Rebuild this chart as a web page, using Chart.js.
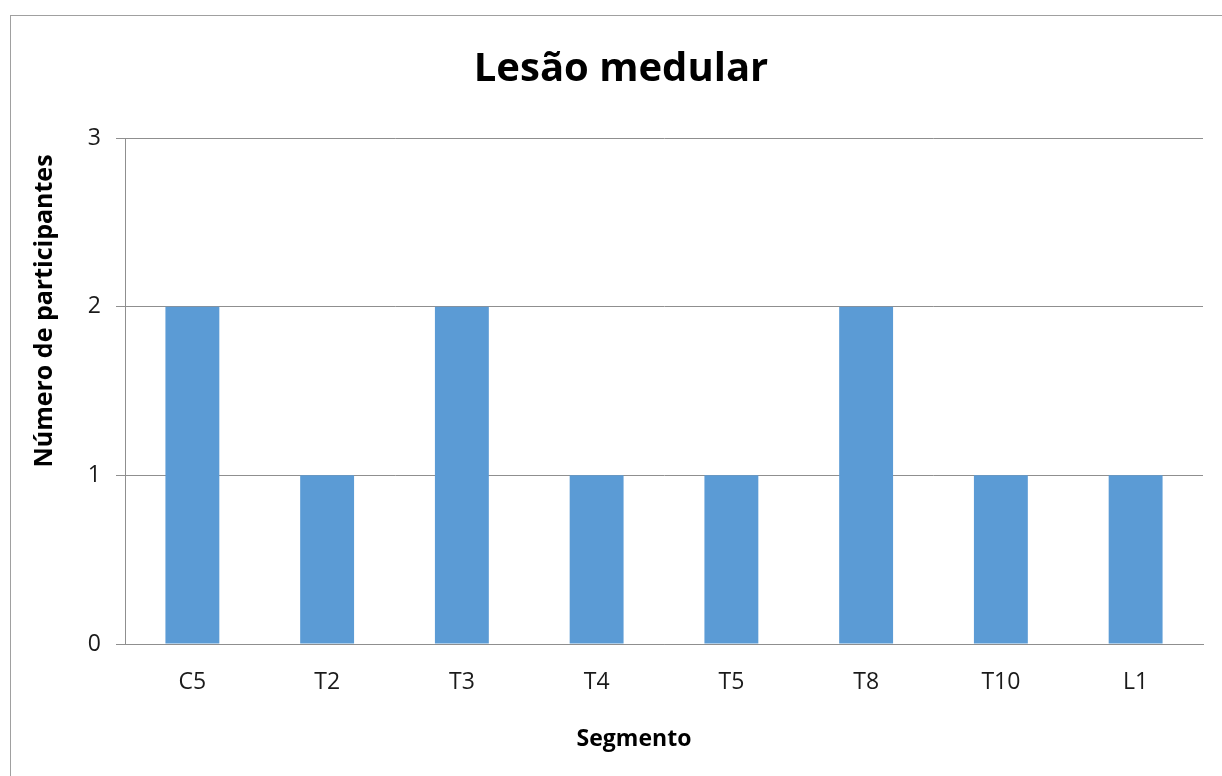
<!DOCTYPE html>
<html lang="pt">
<head>
  <meta charset="UTF-8">
  <title>Lesão medular</title>
  <script src="https://cdn.jsdelivr.net/npm/chart.js"></script>
  <style>
    html, body { margin: 0; padding: 0; background: #fff; overflow: hidden; }
    .frame {
      position: absolute; left: 10px; top: 15px;
      width: 1300px; height: 900px;
      border: 1px solid #a0a0a0;
    }
    #grafico { position: absolute; left: 0; top: 0; }
  </style>
</head>
<body>
  <div class="frame"></div>
  <canvas id="grafico" width="1222" height="776"></canvas>

  <script>
    // dados
    const segmentos = ['C5', 'T2', 'T3', 'T4', 'T5', 'T8', 'T10', 'L1'];
    const participantes = [2, 1, 2, 1, 1, 2, 1, 1];
    const yTicks = [0, 1, 2, 3];

    const tituloY = 'Número de participantes';
    const tituloX = 'Segmento';

    const fonte = "'Open Sans', 'DejaVu Sans', sans-serif";

    // titulos dos eixos desenhados na posição do original
    const axisTitles = {
      id: 'axisTitles',
      afterDraw(chart) {
        const ctx = chart.ctx;
        ctx.save();
        ctx.fillStyle = '#000';
        ctx.textAlign = 'center';
        ctx.textBaseline = 'middle';
        ctx.font = 'bold 23px ' + fonte;
        ctx.fillText(tituloX, 634, 739);
        ctx.font = 'bold 25px ' + fonte;
        ctx.translate(45, 311);
        ctx.rotate(-Math.PI / 2);
        ctx.fillText(tituloY, 0, 0);
        ctx.restore();
      }
    };

    const ctx = document.getElementById('grafico').getContext('2d');
    new Chart(ctx, {
      type: 'bar',
      data: {
        labels: segmentos,
        datasets: [{
          label: 'Número de participantes',
          data: participantes,
          backgroundColor: '#5B9BD5',
          borderWidth: 0,
          barPercentage: 0.4,
          categoryPercentage: 1.0
        }]
      },
      options: {
        responsive: false,
        animation: false,
        layout: { padding: { left: 39, right: 19, top: 0, bottom: 0 } },
        scales: {
          y: {
            min: 0,
            max: 3,
            afterBuildTicks(scale) {
              scale.ticks = yTicks.map(v => ({ value: v }));
            },
            afterFit(scale) { scale.width = 86; },
            ticks: {
              padding: 15,
              color: '#1a1a1a',
              font: { family: fonte, size: 23 }
            },
            grid: { color: '#8f8f8f', lineWidth: 1, tickLength: 9 },
            border: { display: true, color: '#8f8f8f', width: 1 }
          },
          x: {
            afterFit(scale) { scale.height = 132; },
            grid: { display: false, drawTicks: false },
            border: { display: true, color: '#8f8f8f', width: 1 },
            ticks: {
              padding: 25,
              color: '#1a1a1a',
              font: { family: fonte, size: 23 }
            }
          }
        },
        plugins: {
          legend: { display: false },
          tooltip: { enabled: false },
          title: {
            display: true,
            text: 'Lesão medular',
            color: '#000',
            font: { family: fonte, size: 40, weight: 'bold', lineHeight: 1.2 },
            padding: { top: 46, bottom: 44 }
          }
        }
      },
      plugins: [axisTitles]
    });
  </script>
</body>
</html>
